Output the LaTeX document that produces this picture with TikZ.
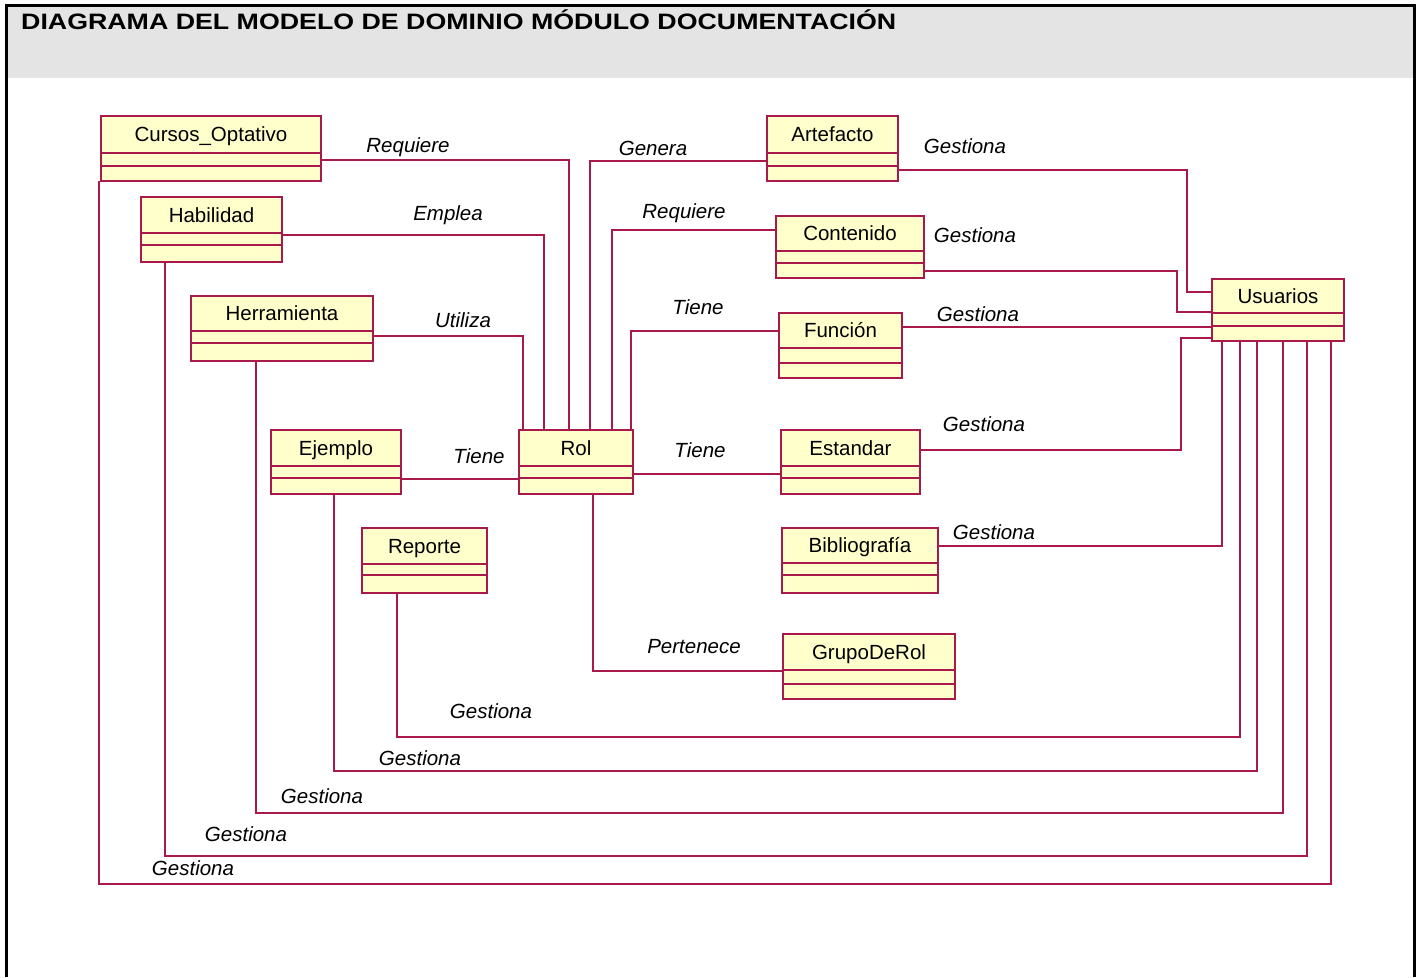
\documentclass[tikz,border=0pt]{standalone}
\usepackage{fontspec}
\usepackage{graphicx}
\setmainfont{Liberation Sans}
\usetikzlibrary{calc}

\definecolor{umlred}{RGB}{170,25,75}
\definecolor{umlfill}{RGB}{255,255,204}
\definecolor{bandgray}{RGB}{228,228,228}

\tikzset{
  cls/.style={draw=umlred, fill=umlfill, line width=1.6pt, rectangle,
    inner sep=0pt, outer sep=0pt},
  clsedge/.style={draw=umlred, line width=1.6pt},
  clstext/.style={inner sep=0pt, font=\fontsize{20.5}{24}\selectfont,
    text height=14.6pt, text depth=0pt},
  assoc/.style={draw=umlred, line width=1.6pt},
  rel/.style={inner sep=0pt, font=\fontsize{20.5}{24}\selectfont\itshape,
    text height=14.7pt, text depth=0pt},
}

% class box: name, x1, y1, x2, y2, first divider, second divider, title
\newcommand\umlbox[8]{%
  \node[cls, anchor=north west, minimum width={#4-#2}, minimum height={#5-#3}]
    (#1) at (#2,#3) {};
  \node[clstext] (#1-name) at ({(#2+#4)/2},{(#3+#6)/2}) {#8};
  \draw[clsedge] (#2,#6) -- (#4,#6) (#2,#7) -- (#4,#7);
}

\begin{document}
\begin{tikzpicture}[x=1pt, y=-1pt]
\useasboundingbox (0,0) rectangle (1420,977);

% page frame and heading band
\fill[bandgray] (7,6) rectangle (1413,78);
\draw[line width=3pt] (6,977) -- (6,5) -- (1414,5) -- (1414,977);
\node[anchor=west, inner sep=0pt, text height=16pt, text depth=0pt,
  font=\fontsize{22.3}{26}\selectfont\bfseries] (title) at (21,21.5)
  {\scalebox{1.2}[1]{DIAGRAMA DEL MODELO DE DOMINIO MÓDULO DOCUMENTACIÓN}};

% classes
\umlbox{cursos}{101}{116}{321}{181}{153}{166}{Cursos\_Optativo}
\umlbox{habilidad}{141}{197}{282}{262}{233}{245}{Habilidad}
\umlbox{herramienta}{191}{296}{373}{361}{331}{343}{Herramienta}
\umlbox{ejemplo}{271}{430}{401}{494}{466}{478}{Ejemplo}
\umlbox{rol}{519}{430}{633}{494}{466}{478}{Rol}
\umlbox{reporte}{362}{528}{487}{593}{564}{575}{Reporte}
\umlbox{artefacto}{767}{116}{898}{181}{153}{166}{Artefacto}
\umlbox{contenido}{776}{216}{924}{278}{251}{263}{Contenido}
\umlbox{funcion}{779}{313}{902}{378}{348}{363}{Función}
\umlbox{estandar}{781}{430}{920}{494}{466}{478}{Estandar}
\umlbox{biblio}{782}{528}{938}{593}{563}{575}{Bibliografía}
\umlbox{grupo}{783}{634}{955}{699}{670}{684}{GrupoDeRol}
\umlbox{usuarios}{1212}{279}{1344}{341}{313}{326}{Usuarios}

% associations into Rol
\draw[assoc] (cursos.east |- 0,160) -| (rol.north -| 569,0);
\draw[assoc] (habilidad.east |- 0,235) -| (rol.north -| 544,0);
\draw[assoc] (herramienta.east |- 0,336) -| (rol.north -| 523,0);
\draw[assoc] (artefacto.west |- 0,161) -| (rol.north -| 590,0);
\draw[assoc] (contenido.west |- 0,230) -| (rol.north -| 612,0);
\draw[assoc] (funcion.west |- 0,331) -| (rol.north -| 631,0);
\draw[assoc] (ejemplo.east |- 0,479) -- (rol.west |- 0,479);
\draw[assoc] (rol.east |- 0,474) -- (estandar.west |- 0,474);
\draw[assoc] (rol.south -| 593,0) |- (grupo.west |- 0,671);

% associations into Usuarios
\draw[assoc] (artefacto.east |- 0,170) -| (1187,292) -- (usuarios.west |- 0,292);
\draw[assoc] (contenido.east |- 0,271) -| (1177,312) -- (usuarios.west |- 0,312);
\draw[assoc] (funcion.east |- 0,327) -- (usuarios.west |- 0,327);
\draw[assoc] (estandar.east |- 0,450) -| (1181,338) -- (usuarios.west |- 0,338);
\draw[assoc] (biblio.east |- 0,546) -| (usuarios.south -| 1222,0);
\draw[assoc] (reporte.south -| 397,0) |- (1240,737) -- (usuarios.south -| 1240,0);
\draw[assoc] (ejemplo.south -| 334,0) |- (1257,771) -- (usuarios.south -| 1257,0);
\draw[assoc] (herramienta.south -| 256,0) |- (1283,813) -- (usuarios.south -| 1283,0);
\draw[assoc] (habilidad.south -| 165,0) |- (1307,856) -- (usuarios.south -| 1307,0);
\draw[assoc] (cursos.south -| 99,0) |- (1331,884) -- (usuarios.south -| 1331,0);

% association names
\node[rel] (l1) at (408,145) {Requiere};
\node[rel] (l2) at (448,213) {Emplea};
\node[rel] (l3) at (463,320) {Utiliza};
\node[rel] (l4) at (653,148) {Genera};
\node[rel] (l5) at (684,211) {Requiere};
\node[rel] (l6) at (698,307) {Tiene};
\node[rel] (l7) at (479,456) {Tiene};
\node[rel] (l8) at (700,450) {Tiene};
\node[rel] (l9) at (694,646) {Pertenece};
\node[rel] (g1) at (965,146) {Gestiona};
\node[rel] (g2) at (975,235) {Gestiona};
\node[rel] (g3) at (978,314) {Gestiona};
\node[rel] (g4) at (984,424) {Gestiona};
\node[rel] (g5) at (994,532) {Gestiona};
\node[rel] (g6) at (491,711) {Gestiona};
\node[rel] (g7) at (420,758) {Gestiona};
\node[rel] (g8) at (322,796) {Gestiona};
\node[rel] (g9) at (246,834) {Gestiona};
\node[rel] (g10) at (193,868) {Gestiona};
\end{tikzpicture}
\end{document}
